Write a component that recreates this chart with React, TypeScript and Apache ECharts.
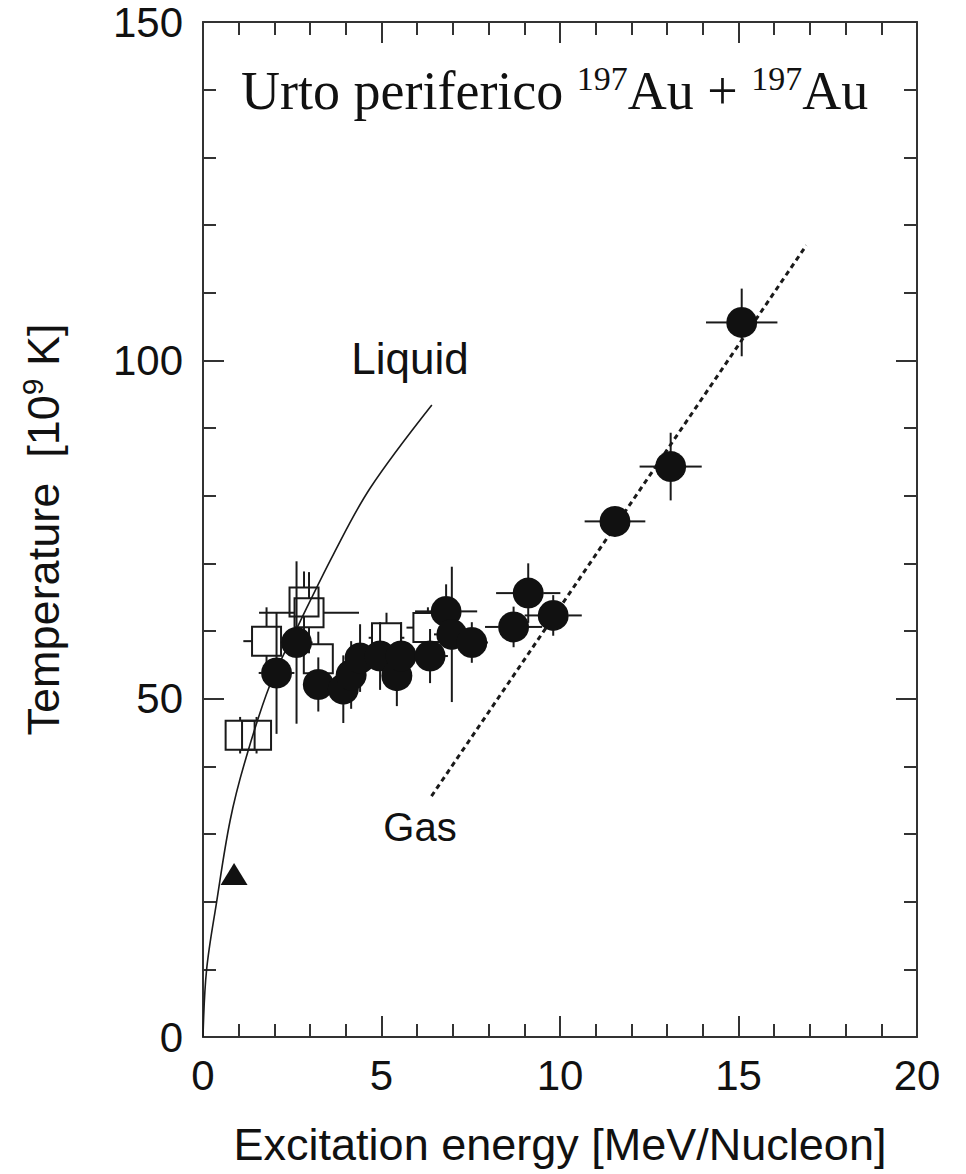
import React, { useEffect, useRef } from "react";
import * as echarts from "echarts";

// ---------- data ----------
// filled circles: excitation energy [MeV/N], temperature [1e9 K], errors
const circleEnergy = [2.06, 2.62, 3.23, 3.93, 4.15, 4.4, 4.96, 5.43, 5.55, 6.36, 6.81, 6.97, 7.53, 8.7, 9.11, 9.81, 11.54, 13.1, 15.09];
const circleTemp = [53.8, 58.3, 52.1, 51.4, 53.5, 56.0, 56.3, 53.4, 56.3, 56.3, 62.9, 59.5, 58.3, 60.6, 65.6, 62.3, 76.2, 84.3, 105.6];
const circleEnergyErr = [0.5, 0.45, 0.35, 0.35, 0.3, 0.4, 0.45, 0.35, 0.45, 0.5, 0.87, 0.5, 0.45, 0.8, 0.9, 0.8, 0.85, 0.87, 1.0];
const circleTempErr = [9, 12, 4, 5, 5, 5, 5, 4.5, 5, 4, 4, 10, 3, 3, 4.4, 3, 2, 5, 5];

// open squares
const squareEnergy = [1.04, 1.5, 1.78, 2.83, 2.97, 3.23, 5.14, 6.3];
const squareTemp = [44.6, 44.6, 58.5, 64.3, 62.7, 55.9, 59.0, 60.5];
const squareEnergyErr = [0.1, 0.1, 0.65, 0.3, 1.4, 0.4, 0.5, 0.6];
const squareTempErr = [2.7, 2.7, 5, 4.5, 6, 4, 3.7, 3];

// triangle
const triangleEnergy = [0.87];
const triangleTemp = [24.1];

// "Liquid" curve
const liquidEnergy = [0, 0.1, 0.38, 0.76, 1.18, 1.88, 2.72, 3.65, 4.68, 6.41];
const liquidTemp = [0, 9.9, 19.9, 32, 40.8, 52.1, 61.4, 71.3, 81.1, 93.4];

// "Gas" line
const gasEnergy = [6.4, 16.9];
const gasTemp = [35.6, 117];

const xRange = [0, 20];
const yRange = [0, 150];

const zip = (a: number[], b: number[]) => a.map((v, i) => [v, b[i]]);
const zip4 = (a: number[], b: number[], c: number[], d: number[]) =>
  a.map((v, i) => [v, b[i], c[i], d[i]]);

const INK = "#1a1a1a";
const AXIS = "#333";
const SANS = "'Liberation Sans', Arial, Helvetica, sans-serif";
const SERIF = "'Liberation Serif', 'Times New Roman', serif";

function errorBars(half: number) {
  return (params: any, api: any) => {
    const x = api.value(0);
    const y = api.value(1);
    const dx = api.value(2);
    const dy = api.value(3);
    const c = api.coord([x, y]);
    const l = api.coord([x - dx, y]);
    const r = api.coord([x + dx, y]);
    const t = api.coord([x, y + dy]);
    const b = api.coord([x, y - dy]);
    const style = { stroke: INK, lineWidth: 2 };
    const children: any[] = [];
    if (l[0] < c[0] - half) children.push({ type: "line", shape: { x1: l[0], y1: c[1], x2: c[0] - half, y2: c[1] }, style });
    if (r[0] > c[0] + half) children.push({ type: "line", shape: { x1: c[0] + half, y1: c[1], x2: r[0], y2: c[1] }, style });
    if (t[1] < c[1] - half) children.push({ type: "line", shape: { x1: c[0], y1: t[1], x2: c[0], y2: c[1] - half }, style });
    if (b[1] > c[1] + half) children.push({ type: "line", shape: { x1: c[0], y1: c[1] + half, x2: c[0], y2: b[1] }, style });
    return { type: "group", children };
  };
}

const axisCommon = {
  type: "value" as const,
  axisLine: { show: true, onZero: false, lineStyle: { color: AXIS, width: 2 } },
  axisTick: { show: true, inside: true, length: 21, lineStyle: { color: AXIS, width: 2 } },
  minorTick: { show: true, splitNumber: 5, length: 13, lineStyle: { color: AXIS, width: 2 } },
  splitLine: { show: false },
  minorSplitLine: { show: false },
};

export default function App() {
  const ref = useRef<HTMLDivElement>(null);

  useEffect(() => {
    document.body.style.margin = "0";
    if (!ref.current) return;
    const chart = echarts.init(ref.current, undefined, { renderer: "svg" });

    const option: any = {
      animation: false,
      backgroundColor: "#ffffff",
      grid: { left: 203, top: 19, width: 714, height: 1018, containLabel: false },
      xAxis: [
        {
          ...axisCommon,
          position: "bottom",
          min: xRange[0],
          max: xRange[1],
          interval: 5,
          axisLabel: { fontSize: 42, color: "#111", fontFamily: SANS, margin: 20, lineHeight: 36 },
          name: "Excitation energy [MeV/Nucleon]",
          nameLocation: "middle",
          nameGap: 85,
          nameTextStyle: { fontSize: 45, color: "#111", fontFamily: SANS },
        },
        {
          ...axisCommon,
          position: "top",
          min: xRange[0],
          max: xRange[1],
          interval: 5,
          axisLabel: { show: false },
        },
      ],
      yAxis: [
        {
          ...axisCommon,
          position: "left",
          min: yRange[0],
          max: yRange[1],
          interval: 50,
          axisLabel: { fontSize: 42, color: "#111", fontFamily: SANS, margin: 20, lineHeight: 34, padding: [10, 0, 0, 0] },
          name: "{n|Temperature  [10}{s|9}{n| K]}",
          nameLocation: "middle",
          nameGap: 134,
          nameTextStyle: {
            color: "#111",
            fontFamily: SANS,
            fontSize: 45,
            rich: {
              n: { fontSize: 45, fontFamily: SANS, color: "#111", lineHeight: 52 },
              s: { fontSize: 30, fontFamily: SANS, color: "#111", lineHeight: 30, verticalAlign: "top" },
            },
          },
        },
        {
          ...axisCommon,
          position: "right",
          min: yRange[0],
          max: yRange[1],
          interval: 50,
          axisLabel: { show: false },
        },
      ],
      series: [
        {
          type: "line",
          name: "Liquid",
          data: zip(liquidEnergy, liquidTemp),
          smooth: 0.35,
          showSymbol: false,
          symbol: "none",
          lineStyle: { color: INK, width: 1.6 },
          z: 2,
        },
        {
          type: "line",
          name: "Gas",
          data: zip(gasEnergy, gasTemp),
          showSymbol: false,
          symbol: "none",
          lineStyle: { color: INK, width: 3, type: [5, 4] },
          z: 2,
        },
        {
          type: "custom",
          name: "square errors",
          data: zip4(squareEnergy, squareTemp, squareEnergyErr, squareTempErr),
          renderItem: errorBars(14.5),
          encode: { x: 0, y: 1 },
          z: 3,
        },
        {
          type: "scatter",
          name: "squares",
          data: zip(squareEnergy, squareTemp),
          symbol: "rect",
          symbolSize: 29,
          itemStyle: { color: "rgba(0,0,0,0)", borderColor: INK, borderWidth: 2, opacity: 1 },
          z: 4,
        },
        {
          type: "custom",
          name: "circle errors",
          data: zip4(circleEnergy, circleTemp, circleEnergyErr, circleTempErr),
          renderItem: errorBars(15),
          encode: { x: 0, y: 1 },
          z: 5,
        },
        {
          type: "scatter",
          name: "circles",
          data: zip(circleEnergy, circleTemp),
          symbol: "circle",
          symbolSize: 31,
          itemStyle: { color: "#111", opacity: 1 },
          z: 6,
        },
        {
          type: "scatter",
          name: "triangle",
          data: zip(triangleEnergy, triangleTemp),
          symbol: "triangle",
          symbolSize: [27, 22],
          itemStyle: { color: "#111", opacity: 1 },
          z: 6,
        },
      ],
      graphic: [
        {
          type: "text",
          left: 241,
          top: 61,
          style: {
            text: "{m|Urto periferico }{s|197}{m|Au + }{s|197}{m|Au}",
            rich: {
              m: { fontSize: 54, fontFamily: SERIF, fill: "#111", lineHeight: 60 },
              s: { fontSize: 34, fontFamily: SERIF, fill: "#111", lineHeight: 34, verticalAlign: "top" },
            },
          },
          z: 10,
        },
        {
          type: "text",
          x: 410,
          y: 336,
          style: { text: "Liquid", fontSize: 44, fontFamily: SANS, fill: "#111", textAlign: "center", textVerticalAlign: "top" },
          z: 10,
        },
        {
          type: "text",
          x: 420,
          y: 807,
          style: { text: "Gas", fontSize: 40, fontFamily: SANS, fill: "#111", textAlign: "center", textVerticalAlign: "top" },
          z: 10,
        },
      ],
    };

    chart.setOption(option);
    return () => chart.dispose();
  }, []);

  return <div ref={ref} style={{ width: 966, height: 1174 }} />;
}
